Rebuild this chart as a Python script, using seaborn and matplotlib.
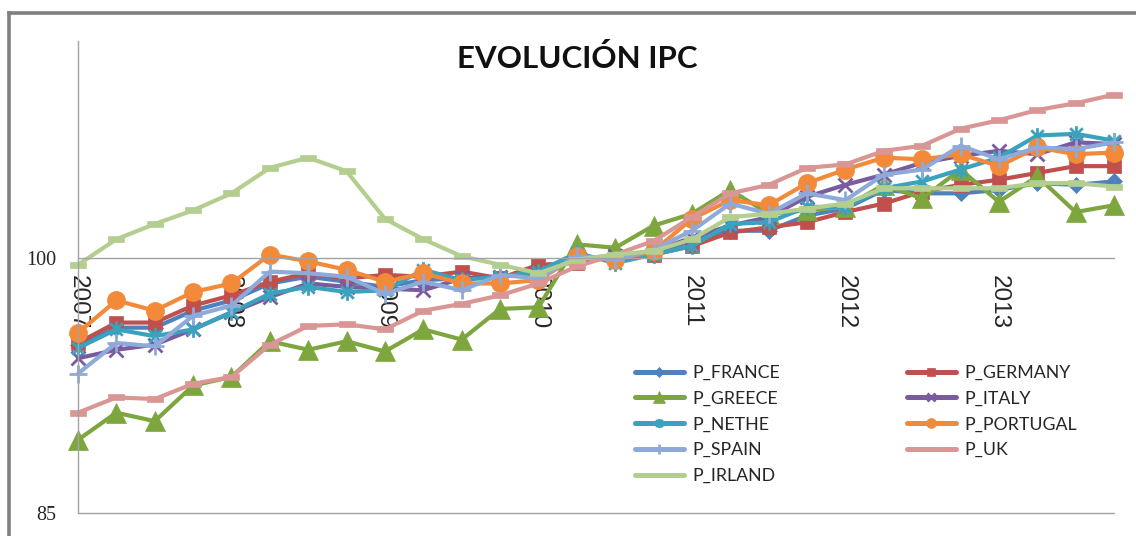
import matplotlib
matplotlib.use("Agg")
import matplotlib.pyplot as plt
from matplotlib.path import Path
from matplotlib.lines import Line2D
import numpy as np
import pandas as pd
import seaborn as sns

# Quarterly periods 2007Q1 .. 2013Q4
years = [2007, 2008, 2009, 2010, 2011, 2012, 2013]
quarters = [f"{y}Q{q}" for y in years for q in range(1, 5)]
tick_labels = [q[:4] if q.endswith("Q1") else "" for q in quarters]

p_france = [94.9, 95.9, 95.9, 96.9, 97.5, 98.5, 98.9, 98.6, 98.3, 98.7, 98.8, 98.9, 99.2, 100.0,
            100.0, 100.3, 101.0, 101.6, 101.6, 102.5, 102.9, 104.0, 103.8, 103.8, 104.0, 104.4, 104.3, 104.5]
p_germany = [95.0, 96.2, 96.2, 97.2, 97.8, 98.6, 99.1, 98.8, 99.0, 98.9, 99.2, 98.8, 99.6, 99.7,
             100.1, 100.2, 100.7, 101.5, 101.8, 102.1, 102.7, 103.2, 103.9, 104.3, 104.6, 105.0, 105.4, 105.4]
p_greece = [89.3, 90.9, 90.4, 92.5, 93.0, 95.1, 94.6, 95.1, 94.5, 95.8, 95.2, 97.0, 97.1, 100.8,
            100.6, 101.9, 102.6, 104.0, 102.6, 102.8, 103.0, 104.3, 103.5, 105.2, 103.3, 104.8, 102.7, 103.1]
p_italy = [94.1, 94.6, 94.9, 95.8, 96.8, 97.7, 98.5, 98.3, 98.2, 98.1, 98.8, 98.9, 99.1, 100.0,
           100.1, 100.4, 101.2, 101.9, 102.4, 103.6, 104.3, 104.9, 105.6, 106.0, 106.3, 106.1, 106.8, 106.7]
p_nethe = [94.7, 95.8, 95.4, 95.8, 96.8, 97.9, 98.3, 98.0, 98.1, 99.3, 98.7, 98.9, 99.2, 100.3,
           99.7, 100.2, 100.7, 102.0, 102.1, 103.0, 103.0, 104.1, 104.5, 105.2, 105.9, 107.2, 107.3, 106.9]
p_portugal = [95.6, 97.5, 96.9, 98.0, 98.5, 100.2, 99.8, 99.3, 98.6, 99.1, 98.5, 98.5, 98.7, 100.1,
              99.9, 100.4, 102.3, 103.4, 103.1, 104.4, 105.2, 105.9, 105.8, 106.1, 105.4, 106.5, 106.1, 106.2]
p_spain = [93.2, 95.0, 94.8, 96.6, 97.2, 99.2, 99.1, 98.9, 97.9, 98.6, 98.1, 99.0, 98.8, 100.1,
           99.9, 100.5, 101.6, 103.2, 102.6, 103.8, 103.4, 104.9, 105.2, 106.6, 105.8, 106.5, 106.4, 106.8]
p_uk = [90.9, 91.8, 91.7, 92.6, 93.0, 94.9, 96.0, 96.1, 95.8, 96.9, 97.3, 97.8, 98.5, 99.5,
        100.2, 101.0, 102.4, 103.8, 104.3, 105.3, 105.5, 106.3, 106.6, 107.6, 108.1, 108.7, 109.1, 109.6]
p_irland = [99.6, 101.1, 102.0, 102.8, 103.8, 105.3, 105.9, 105.1, 102.3, 101.1, 100.1, 99.6, 99.1, 99.9,
            100.2, 100.4, 101.1, 102.4, 102.6, 102.9, 103.2, 104.1, 104.1, 104.1, 104.1, 104.4, 104.4, 104.2]

series_names = ["P_FRANCE", "P_GERMANY", "P_GREECE", "P_ITALY", "P_NETHE",
                "P_PORTUGAL", "P_SPAIN", "P_UK", "P_IRLAND"]
series_values = [p_france, p_germany, p_greece, p_italy, p_nethe,
                 p_portugal, p_spain, p_uk, p_irland]

df = pd.DataFrame({name: vals for name, vals in zip(series_names, series_values)})
df["t"] = np.arange(len(quarters))
long_df = df.melt(id_vars="t", var_name="serie", value_name="ipc")

# Marker shapes in the classic office-chart style
star = Path([(0, -1), (0, 1), (-0.75, -0.75), (0.75, 0.75), (-0.75, 0.75), (0.75, -0.75)],
            [Path.MOVETO, Path.LINETO, Path.MOVETO, Path.LINETO, Path.MOVETO, Path.LINETO])
dash = [(-1, -0.4), (1, -0.4), (1, 0.4), (-1, 0.4), (-1, -0.4)]

styles = {
    "P_FRANCE":   dict(color="#4F81BD", marker="D", ms=8.5, mew=0.5),
    "P_GERMANY":  dict(color="#C0504D", marker="s", ms=10.5, mew=0.5),
    "P_GREECE":   dict(color="#7EA63F", marker="^", ms=15, mew=0.5),
    "P_ITALY":    dict(color="#7A5C9E", marker="x", ms=10, mew=2.0),
    "P_NETHE":    dict(color="#3AA2BD", marker=star, ms=12, mew=2.0),
    "P_PORTUGAL": dict(color="#F28A3A", marker="o", ms=13, mew=0.5),
    "P_SPAIN":    dict(color="#8EAADB", marker="+", ms=13, mew=2.0),
    "P_UK":       dict(color="#D99694", marker=dash, ms=11, mew=0.5),
    "P_IRLAND":   dict(color="#B4CE90", marker=dash, ms=12, mew=0.5),
}

sns.set_style("white")
plt.rcParams["font.family"] = ["Lato", "DejaVu Sans"]

fig = plt.figure(figsize=(11.36, 5.36), dpi=100)
ax = fig.add_axes([78 / 1136, 1 - 513 / 536, (1114 - 78) / 1136, (513 - 41) / 536])

handles = {}
for name in series_names:
    st = styles[name]
    sub = long_df[long_df["serie"] == name]
    sns.lineplot(data=sub, x="t", y="ipc", ax=ax, color=st["color"], lw=3.0,
                 marker=st["marker"], markersize=st["ms"], markeredgewidth=st["mew"],
                 markeredgecolor=st["color"], markerfacecolor=st["color"],
                 clip_on=False, legend=False)
    handles[name] = ax.lines[-1]

axis_grey = "#A3A3A3"
ax.set_xlim(0, len(quarters) - 1)
ax.set_ylim(85, 112.76)

for side in ["top", "right"]:
    ax.spines[side].set_visible(False)
ax.spines["left"].set_color(axis_grey)
ax.spines["left"].set_linewidth(1.0)
ax.spines["bottom"].set_position(("data", 100))
ax.spines["bottom"].set_color(axis_grey)
ax.spines["bottom"].set_linewidth(1.0)
ax.axhline(85, color=axis_grey, lw=1.0, clip_on=False, zorder=0)

ax.set_xticks(range(len(quarters)))
ax.set_xticklabels(tick_labels, rotation=-90, fontsize=17.5,
                   family=["Liberation Sans", "DejaVu Sans"])
ax.tick_params(axis="x", direction="out", length=6.5, width=1.0, color=axis_grey, pad=6)
ax.set_yticks([85, 100])
ax.set_yticklabels(["85", "100"], fontsize=14.5, family=["Liberation Serif", "DejaVu Serif"])
ax.tick_params(axis="y", direction="out", length=4.5, width=1.0, color=axis_grey, pad=11)
ax.set_xlabel("")
ax.set_ylabel("")

fig.text(577 / 1136, 1 - 58 / 536, "EVOLUCIÓN IPC", ha="center", va="center",
         fontsize=22.5, fontweight="bold", color="#111111")

# Legend laid out row by row: two columns
col1 = ["P_FRANCE", "P_GREECE", "P_NETHE", "P_SPAIN", "P_IRLAND"]
col2 = ["P_GERMANY", "P_ITALY", "P_PORTUGAL", "P_UK"]
order = col1 + col2
leg = fig.legend([handles[n] for n in order], order, ncol=2,
                 loc="upper left", bbox_to_anchor=(626 / 1136, 1 - 356 / 536),
                 frameon=False, fontsize=12.8, handlelength=2.75, handletextpad=0.5,
                 columnspacing=7.1, labelspacing=0.55, borderpad=0, markerscale=0.55)
for line in leg.get_lines():
    line.set_linewidth(3.6)

# Chart frame
frame_grey = "#808080"
fig.add_artist(Line2D([9 / 1136, 9 / 1136], [0, 1 - 13 / 536], transform=fig.transFigure,
                      color=frame_grey, lw=2.6, solid_capstyle="projecting"))
fig.add_artist(Line2D([9 / 1136, 1.0], [1 - 13 / 536, 1 - 13 / 536], transform=fig.transFigure,
                      color=frame_grey, lw=2.6, solid_capstyle="projecting"))

fig.savefig("out.png", dpi=100, facecolor="white")
